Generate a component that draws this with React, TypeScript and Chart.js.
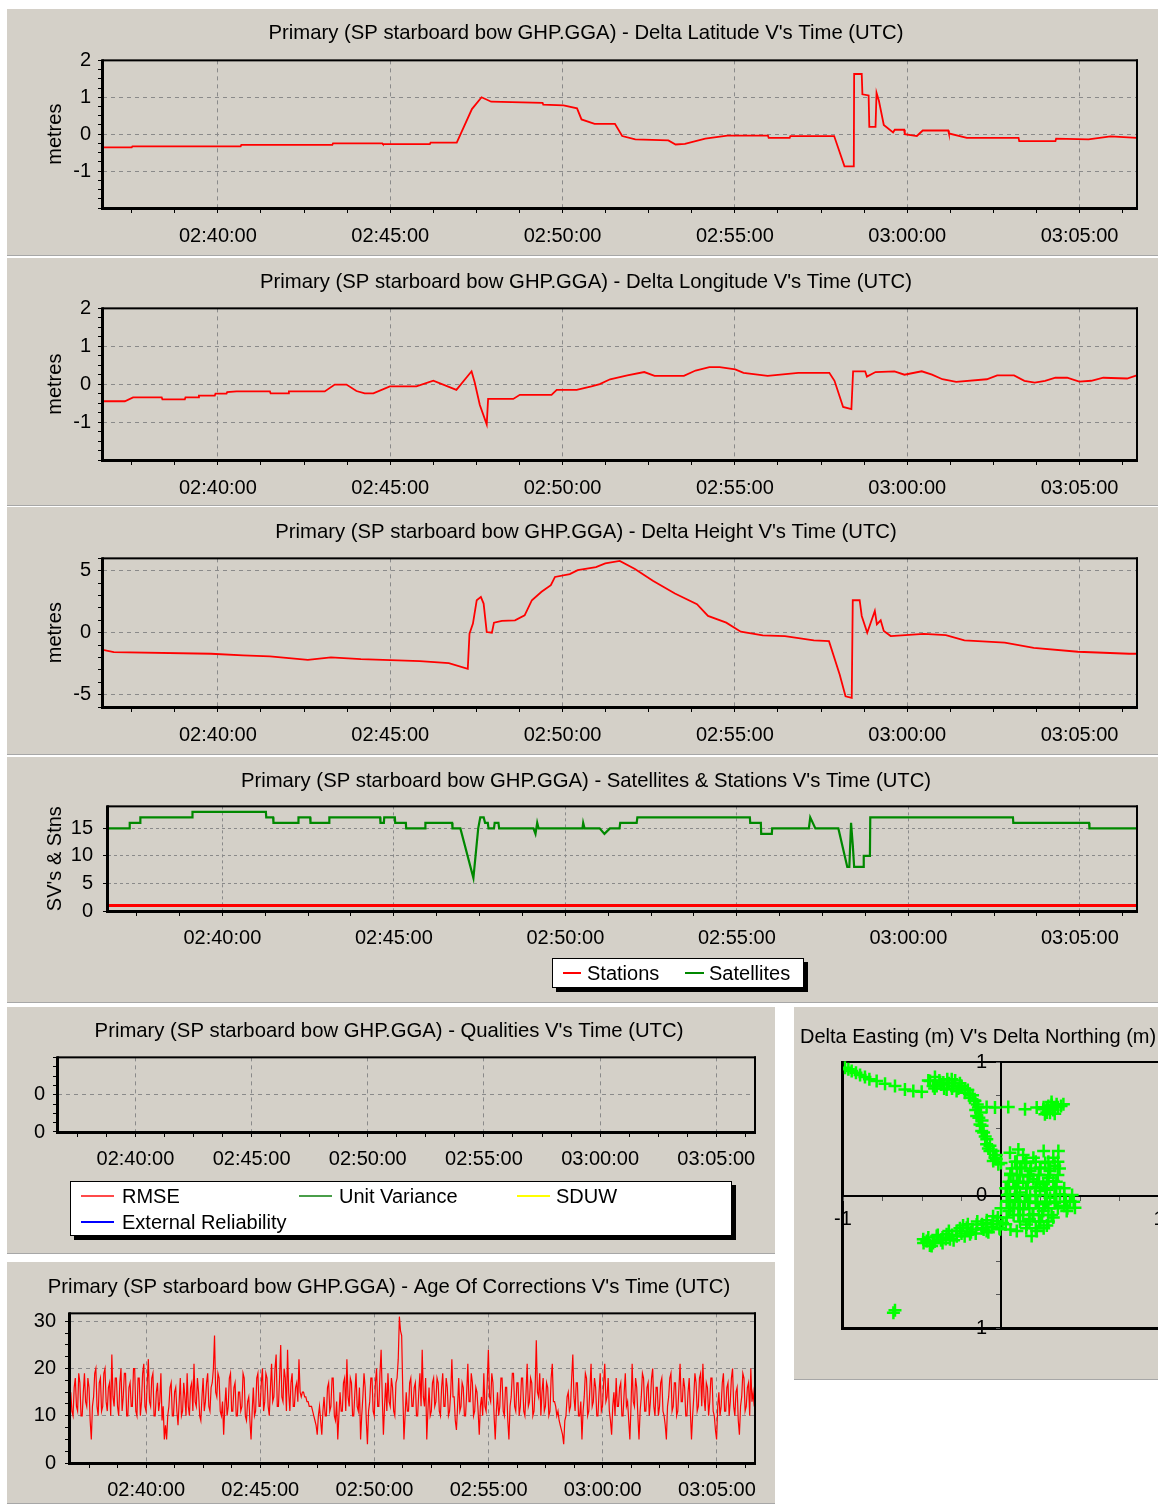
import React, { useEffect, useRef } from 'react';
import { Chart, registerables } from 'chart.js';

Chart.register(...registerables);

const FONT = '"Liberation Sans", Arial, sans-serif';
const PANEL_BG = '#d4d0c8';
const GRID = '#8a8a8a';
const INK = '#000000';
const NONE = 'rgba(0,0,0,0)';
Chart.defaults.font.family = FONT;

// ---------------- axis tick labels ----------------
const timeTickLabels = ['02:40:00', '02:45:00', '02:50:00', '02:55:00', '03:00:00', '03:05:00'];
const timeStart = '02:36:40';
const timeEnd = '03:06:40';

// ---------------- data (times in minutes after 02:00 UTC) ----------------
const latTime = [36.67, 37.5, 37.52, 40.66, 40.68, 43.32, 43.34, 44.77, 44.79, 46.15, 46.17, 46.93, 47.37, 47.65, 47.93, 49.42, 49.44, 50.03, 50.42, 50.55, 50.93, 51.52, 51.73, 52.11, 53.07, 53.28, 53.55, 54.14, 54.78, 55.96, 55.98, 56.59, 56.61, 57.88, 58.18, 58.45, 58.46, 58.68, 58.7, 58.88, 58.9, 59.08, 59.11, 59.18, 59.32, 59.59, 59.64, 59.91, 59.93, 60.28, 60.45, 61.19, 61.21, 61.73, 63.23, 63.25, 64.3, 64.32, 65.26, 65.9, 66.66];
const latValue = [-0.36, -0.36, -0.33, -0.33, -0.29, -0.29, -0.25, -0.25, -0.27, -0.27, -0.23, -0.23, 0.68, 1.0, 0.88, 0.85, 0.8, 0.78, 0.7, 0.4, 0.28, 0.28, -0.05, -0.14, -0.17, -0.28, -0.26, -0.12, -0.04, -0.04, -0.1, -0.1, -0.05, -0.05, -0.87, -0.87, 1.63, 1.63, 1.08, 1.05, 0.2, 0.2, 1.12, 0.9, 0.25, 0.05, 0.12, 0.12, 0.0, -0.05, 0.1, 0.1, 0.02, -0.1, -0.1, -0.19, -0.19, -0.12, -0.14, -0.06, -0.1];

const lonTime = [36.67, 37.3, 37.54, 38.37, 38.39, 39.04, 39.06, 39.43, 39.45, 39.91, 39.93, 40.25, 40.27, 40.54, 41.51, 41.53, 42.04, 42.06, 43.1, 43.39, 43.73, 44.02, 44.26, 44.51, 44.99, 45.76, 46.25, 46.92, 47.36, 47.45, 47.6, 47.8, 47.84, 48.57, 48.76, 49.68, 49.83, 50.41, 50.84, 51.08, 51.38, 51.88, 52.37, 52.67, 53.52, 53.86, 54.26, 54.56, 55.01, 55.25, 55.95, 56.84, 57.74, 57.89, 58.14, 58.38, 58.43, 58.78, 58.83, 59.08, 59.63, 59.92, 60.42, 60.72, 61.02, 61.42, 62.31, 62.61, 63.1, 63.4, 63.7, 64.0, 64.3, 64.64, 64.99, 65.34, 65.69, 66.38, 66.66];
const lonValue = [-0.45, -0.45, -0.35, -0.35, -0.4, -0.4, -0.35, -0.35, -0.3, -0.3, -0.25, -0.25, -0.21, -0.19, -0.19, -0.24, -0.24, -0.19, -0.19, -0.01, -0.01, -0.18, -0.24, -0.24, -0.06, -0.06, 0.09, -0.15, 0.34, 0.05, -0.55, -1.06, -0.39, -0.39, -0.28, -0.28, -0.15, -0.15, -0.06, 0.0, 0.13, 0.23, 0.32, 0.22, 0.22, 0.36, 0.45, 0.45, 0.39, 0.3, 0.22, 0.3, 0.3, 0.09, -0.6, -0.66, 0.34, 0.34, 0.2, 0.32, 0.34, 0.25, 0.34, 0.25, 0.13, 0.06, 0.13, 0.23, 0.23, 0.09, 0.04, 0.09, 0.17, 0.17, 0.07, 0.09, 0.17, 0.15, 0.23];

const hgtTime = [36.65, 36.98, 39.8, 40.73, 41.51, 42.61, 43.28, 44.15, 45.86, 46.7, 47.25, 47.3, 47.4, 47.51, 47.63, 47.71, 47.8, 47.95, 48.01, 48.24, 48.62, 48.9, 49.11, 49.39, 49.66, 49.78, 50.21, 50.44, 50.97, 51.24, 51.66, 52.1, 52.62, 53.26, 53.9, 54.22, 54.75, 55.17, 55.81, 56.45, 57.29, 57.73, 58.04, 58.21, 58.39, 58.42, 58.62, 58.68, 58.84, 59.06, 59.12, 59.23, 59.32, 59.52, 60.48, 61.12, 61.66, 62.83, 63.67, 64.95, 66.44, 66.66];
const hgtValue = [-1.38, -1.57, -1.7, -1.84, -1.92, -2.19, -2.0, -2.14, -2.3, -2.46, -2.92, -0.08, 0.73, 2.62, 2.89, 2.35, 0.05, 0.0, 0.81, 0.95, 1.0, 1.4, 2.62, 3.3, 3.84, 4.5, 4.73, 5.05, 5.3, 5.6, 5.8, 5.14, 4.19, 3.16, 2.3, 1.35, 0.81, 0.08, -0.22, -0.27, -0.62, -0.68, -3.38, -5.14, -5.27, 2.62, 2.62, 1.35, 0.0, 1.76, 0.68, 1.0, 0.14, -0.27, -0.1, -0.19, -0.62, -0.81, -1.22, -1.54, -1.7, -1.7];

const satTime = [36.67, 37.29, 37.3, 37.6, 37.61, 39.12, 39.13, 41.27, 41.28, 41.48, 41.49, 42.21, 42.22, 42.56, 42.57, 43.11, 43.12, 44.6, 44.61, 44.71, 44.72, 45.03, 45.04, 45.35, 45.36, 45.91, 45.92, 46.7, 46.71, 46.94, 47.32, 47.46, 47.52, 47.62, 47.66, 47.74, 47.76, 47.92, 47.94, 48.05, 48.07, 49.07, 49.13, 49.18, 49.22, 50.5, 50.52, 50.56, 51.0, 51.14, 51.3, 51.58, 51.6, 52.08, 52.1, 55.38, 55.39, 55.7, 55.71, 56.02, 56.03, 57.1, 57.14, 57.29, 57.96, 58.22, 58.28, 58.33, 58.38, 58.42, 58.69, 58.7, 58.88, 58.89, 63.05, 63.06, 65.27, 65.28, 66.67];
const satCount = [15, 15, 16, 16, 17, 17, 18, 18, 17, 17, 16, 16, 17, 17, 16, 16, 17, 17, 16, 16, 17, 17, 16, 16, 15, 15, 16, 16, 15, 15, 6, 15, 17, 17, 16, 16, 15, 15, 16, 16, 15, 15, 14, 16, 15, 15, 16, 15, 15, 14, 15, 15, 16, 16, 17, 17, 16, 16, 14, 14, 15, 15, 17, 15, 15, 8, 8, 16, 12, 8, 8, 10, 10, 17, 17, 16, 16, 15, 15];
const stnTime = [36.67, 66.67];
const stnCount = [1, 1];

// Age of corrections (s), evenly sampled over the plotted period
const ageValue = [
  15, 11, 10, 16, 18, 12, 11, 19, 17, 10, 10, 15, 19, 13, 12, 18, 16, 9, 5, 12, 14, 19, 20, 12, 10, 17, 18, 11, 12, 19, 20, 13, 11, 16, 17, 10, 23, 14, 12, 18,
  18, 12, 10, 17, 20, 11, 14, 19, 19, 10, 10, 16, 17, 12, 12, 20, 20, 11, 10, 18, 18, 10, 13, 19, 21, 12, 11, 17, 22, 13, 12, 18, 19, 10, 10, 15, 17, 11, 13, 19,
  9, 12, 5, 8, 5, 10, 12, 16, 17, 10, 10, 15, 16, 11, 8, 13, 18, 10, 11, 17, 14, 10, 19, 12, 10, 16, 17, 11, 21, 13, 12, 18, 15, 10, 9, 14, 18, 11, 13, 17,
  19, 12, 11, 16, 17, 20, 27, 15, 14, 19, 18, 11, 10, 13, 6, 12, 16, 10, 12, 18, 19, 11, 11, 16, 17, 10, 10, 15, 15, 11, 12, 19, 18, 10, 9, 13, 14, 9, 5, 11,
  16, 10, 11, 18, 19, 12, 12, 17, 20, 11, 13, 19, 18, 12, 10, 16, 21, 13, 14, 20, 23, 12, 12, 18, 25, 14, 13, 20, 18, 11, 24, 15, 11, 17, 19, 12, 12, 16, 17, 13,
  22, 15, 14, 15, 15, 14, 14, 13, 13, 12, 12, 12, 11, 10, 9, 8, 6, 10, 12, 9, 6, 11, 14, 10, 10, 16, 17, 11, 12, 18, 18, 10, 9, 13, 5, 10, 15, 11, 11, 17,
  18, 11, 22, 14, 12, 18, 17, 10, 10, 15, 19, 12, 11, 16, 5, 10, 14, 19, 16, 9, 4, 11, 13, 18, 18, 11, 10, 17, 20, 12, 12, 19, 24, 14, 6, 12, 17, 11, 19, 13,
  12, 18, 16, 11, 10, 17, 18, 22, 31, 28, 27, 15, 5, 10, 15, 11, 11, 17, 18, 12, 12, 16, 17, 10, 10, 15, 19, 12, 24, 14, 12, 18, 5, 11, 16, 10, 11, 17, 18, 12,
  13, 18, 17, 11, 10, 16, 19, 12, 12, 18, 16, 10, 11, 15, 22, 14, 14, 9, 7, 12, 18, 11, 12, 17, 16, 10, 10, 15, 21, 13, 13, 19, 17, 10, 11, 16, 15, 11, 6, 12,
  14, 10, 19, 12, 11, 17, 24, 14, 13, 19, 17, 10, 5, 11, 15, 10, 12, 18, 18, 11, 10, 16, 16, 9, 5, 12, 14, 19, 19, 12, 11, 17, 17, 10, 12, 18, 18, 11, 10, 15,
  21, 12, 13, 18, 17, 10, 11, 16, 26, 15, 14, 19, 10, 15, 18, 11, 12, 17, 16, 10, 11, 18, 21, 13, 13, 12, 10, 11, 9, 8, 7, 6, 4, 9, 10, 14, 15, 11, 12, 18,
  23, 14, 11, 17, 17, 10, 10, 13, 5, 11, 14, 19, 18, 10, 11, 16, 21, 12, 13, 18, 16, 10, 10, 15, 19, 11, 12, 17, 21, 13, 14, 18, 11, 9, 6, 12, 15, 10, 18, 12,
  12, 16, 17, 10, 10, 15, 19, 12, 13, 9, 5, 12, 21, 13, 12, 18, 16, 10, 5, 11, 14, 19, 18, 11, 11, 16, 17, 10, 13, 18, 20, 12, 10, 16, 16, 10, 12, 17, 18, 11,
  10, 8, 5, 12, 14, 18, 19, 11, 12, 17, 17, 10, 11, 16, 21, 13, 13, 18, 16, 10, 10, 15, 18, 11, 5, 10, 14, 19, 17, 11, 12, 18, 19, 12, 21, 14, 11, 17, 16, 10,
  13, 18, 18, 11, 10, 7, 5, 12, 15, 10, 12, 17, 19, 11, 11, 16, 17, 10, 13, 18, 20, 12, 10, 15, 16, 9, 6, 12, 14, 19, 18, 11, 12, 16, 17, 10, 20, 13, 15, 12,
];
const ageFirstSample = '02:36:42';
const ageLastSample = '03:06:38';

// Delta Easting / Northing (m)
const eastings = [
  -0.987, -0.966, -0.945, -0.918, -0.892, -0.861, -0.833, -0.787, -0.734, -0.671, -0.608, -0.555, -0.502,
  -0.449, -0.418, -0.407, -0.365, -0.344, -0.312, -0.302, -0.281, -0.249, -0.228, -0.196, -0.165, -0.143, -0.154, -0.133, -0.122, -0.091, -0.07, -0.038, -0.017, -0.049,
  -0.091, -0.038, 0.046, 0.152, 0.226, 0.268, 0.289, 0.321, 0.352, 0.395, 0.31, 0.278,
  0.057, 0.11, 0.205, 0.331, 0.363, 0.12, 0.184, 0.247, 0.31, 0.078, 0.141, 0.205, 0.268, 0.331, 0.057, 0.12, 0.184, 0.247, 0.31, 0.373, 0.437, 0.468, 0.416, 0.078, 0.141, 0.205, 0.268, 0.331, 0.162, 0.226, 0.194, 0.036,
  0.036, -0.027, -0.091, -0.154, -0.217, -0.281, -0.344, -0.407, -0.47, -0.492, -0.439, -0.323, -0.196, -0.091, -0.006,
  -0.671, -0.681,
  0.09, 0.15, 0.28, 0.1, 0.17, 0.24, 0.3, 0.09, 0.16, 0.22, 0.29, 0.35, 0.09, 0.15, 0.22, 0.28, 0.34, 0.4, 0.11, 0.18, 0.25, 0.29, 0.05, 0.0, 0.03, 0.06, 0.14, 0.27, 0.34,
  -0.06, -0.12, -0.18, -0.25, -0.31, -0.37, -0.43, -0.38, -0.24, -0.12, -0.05, 0.01,
  -0.43, -0.39, -0.33, -0.27, -0.36, -0.29, -0.21, -0.18, -0.15, -0.13, -0.12, -0.1, -0.08, -0.03,
  0.3, 0.33, 0.36, 0.29,
  0.1, 0.16, 0.22, 0.3, 0.36,
  0.07, 0.13, 0.19, 0.25, 0.31, 0.37,
  0.06, 0.12, 0.18, 0.24, 0.3, 0.36,
  0.05, 0.11, 0.17, 0.23, 0.29, 0.35,
  0.04, 0.1, 0.16, 0.22, 0.28, 0.34, 0.4,
  0.04, 0.1, 0.16, 0.22, 0.28, 0.34, 0.4, 0.45,
  0.05, 0.11, 0.17, 0.23, 0.29, 0.35, 0.41, 0.46,
  0.06, 0.12, 0.18, 0.24, 0.3, 0.36, 0.42,
  0.08, 0.14, 0.2, 0.26, 0.32,
  0.12, 0.18, 0.24, 0.3,
  0.16, 0.22, 0.27,
  -0.02, -0.05, -0.09, -0.11, -0.15, -0.19, -0.21, -0.26, -0.28, -0.33, -0.35, -0.4, -0.42, -0.46, -0.45, -0.49, -0.37, -0.3, -0.23, -0.16, -0.08, -0.01, 0.03, 0.06, 0.1,
  -0.46, -0.42, -0.38, -0.34, -0.31, -0.26, -0.23, -0.2, -0.17, -0.16, -0.14, -0.12, -0.11, -0.09, -0.07, -0.05, -0.03, 0.0,
  0.32, 0.34, 0.38, 0.27,
];
const northings = [
  0.957, 0.945, 0.932, 0.92, 0.902, 0.887, 0.87, 0.857, 0.837, 0.82, 0.794, 0.782, 0.777,
  0.857, 0.887, 0.82, 0.845, 0.794, 0.87, 0.82, 0.782, 0.82, 0.769, 0.732, 0.707, 0.657, 0.594, 0.531, 0.481, 0.381, 0.331, 0.281, 0.231, 0.256,
  0.662, 0.657, 0.662, 0.644, 0.657, 0.644, 0.657, 0.677, 0.682, 0.682, 0.619, 0.607,
  0.318, 0.343, 0.281, 0.281, 0.331, 0.206, 0.18, 0.206, 0.18, 0.105, 0.093, 0.118, 0.08, 0.105, 0.005, 0.018, -0.008, 0.03, -0.02, 0.005, -0.045, -0.095, -0.12, -0.095, -0.108, -0.145, -0.12, -0.17, -0.221, -0.271, -0.308, -0.045,
  -0.17, -0.195, -0.208, -0.221, -0.246, -0.271, -0.296, -0.308, -0.346, -0.333, -0.383, -0.333, -0.296, -0.271, -0.258,
  -0.867, -0.885,
  0.25, 0.24, 0.24, 0.15, 0.14, 0.15, 0.13, 0.06, 0.05, 0.06, 0.04, 0.06, -0.04, -0.05, -0.06, -0.07, -0.06, -0.08, -0.15, -0.18, -0.2, -0.23, -0.12, -0.1, 0.05, 0.16, 0.3, 0.33, 0.22,
  -0.24, -0.25, -0.26, -0.29, -0.3, -0.32, -0.36, -0.34, -0.23, -0.22, -0.16, -0.21,
  0.82, 0.86, 0.84, 0.8, 0.8, 0.86, 0.79, 0.75, 0.68, 0.62, 0.56, 0.44, 0.35, 0.3,
  0.67, 0.64, 0.66, 0.62,
  0.25, 0.25, 0.25, 0.25, 0.25,
  0.2, 0.2, 0.2, 0.2, 0.2, 0.2,
  0.15, 0.15, 0.15, 0.15, 0.15, 0.15,
  0.1, 0.1, 0.1, 0.1, 0.1, 0.1,
  0.05, 0.05, 0.05, 0.05, 0.05, 0.05, 0.05,
  0.0, 0.0, 0.0, 0.0, 0.0, 0.0, 0.0, 0.0,
  -0.05, -0.05, -0.05, -0.05, -0.05, -0.05, -0.05, -0.05,
  -0.1, -0.1, -0.1, -0.1, -0.1, -0.1, -0.1,
  -0.15, -0.15, -0.15, -0.15, -0.15,
  -0.2, -0.2, -0.2, -0.2,
  -0.25, -0.25, -0.25,
  -0.17, -0.22, -0.19, -0.26, -0.2, -0.28, -0.22, -0.25, -0.31, -0.27, -0.33, -0.3, -0.35, -0.32, -0.38, -0.36, -0.36, -0.34, -0.31, -0.29, -0.28, -0.25, -0.22, -0.26, -0.27,
  0.86, 0.8, 0.83, 0.87, 0.8, 0.84, 0.8, 0.76, 0.71, 0.64, 0.58, 0.52, 0.47, 0.42, 0.37, 0.33, 0.27, 0.24,
  0.7, 0.61, 0.67, 0.66,
];

const svSeries = ['Stations', 'Satellites'];
const svColours = ['#ff0000', '#008800'];
const qualitySeries = ['RMSE', 'Unit Variance', 'SDUW', 'External Reliability'];
const qualityColours = ['#ff4a4a', '#4a9e4a', '#ffff00', '#0000ff'];

// ---------------- helpers ----------------
const clockToMinutes = (s: string) => {
  const [h, m, sec] = s.split(':').map(Number);
  return (h - 2) * 60 + m + sec / 60;
};
const X_MIN = clockToMinutes(timeStart);
const X_MAX = clockToMinutes(timeEnd);
const majorMinutes = timeTickLabels.map(clockToMinutes);
const MINOR_STEP = 1.25;
const majorIndex = (v: number) => majorMinutes.findIndex((m) => Math.abs(m - v) < 1e-6);
const pts = (xs: number[], ys: number[]) => xs.map((x, i) => ({ x, y: ys[i] }));

function timeTickValues() {
  const out: number[] = [];
  let v = majorMinutes[0];
  while (v - MINOR_STEP > X_MIN) v -= MINOR_STEP;
  for (; v < X_MAX - 1e-9; v += MINOR_STEP) out.push(+v.toFixed(4));
  return out;
}

const font20 = { family: FONT, size: 20, weight: 'normal' as const };
const fontTitle = { family: FONT, size: 20.3, weight: 'normal' as const };

function timeAxis(height: number, dash: number[], pad: number) {
  const values = timeTickValues();
  return {
    type: 'linear',
    position: 'bottom',
    min: X_MIN,
    max: X_MAX,
    afterBuildTicks: (s: any) => {
      s.ticks = values.map((value) => ({ value }));
    },
    afterFit: (s: any) => {
      s.height = height;
    },
    ticks: {
      autoSkip: false,
      maxRotation: 0,
      minRotation: 0,
      padding: pad,
      color: INK,
      font: font20,
      callback: (v: number) => {
        const i = majorIndex(v);
        return i >= 0 ? timeTickLabels[i] : '';
      },
    },
    grid: {
      color: (c: any) => (c.tick && majorIndex(c.tick.value) >= 0 ? GRID : NONE),
      tickColor: INK,
      tickLength: 5,
      lineWidth: 1,
    },
    border: { display: false, dash },
  };
}

function valueAxis(o: any) {
  const values: number[] = [];
  for (let k = 0; o.min + k * o.step <= o.max + 1e-9; k++) values.push(+(o.min + k * o.step).toFixed(6));
  const has = (v: number) => o.labels.some((l: number) => Math.abs(l - v) < 1e-9);
  return {
    type: 'linear',
    position: 'left',
    min: o.min,
    max: o.max,
    afterBuildTicks: (s: any) => {
      s.ticks = values.map((value) => ({ value }));
    },
    afterFit: (s: any) => {
      s.width = o.width;
    },
    ticks: {
      autoSkip: false,
      padding: o.pad,
      color: INK,
      font: font20,
      callback: (v: number) => (has(v) ? (o.fmt ? o.fmt(v) : String(v)) : ''),
    },
    grid: {
      color: (c: any) =>
        c.tick && has(c.tick.value) && c.tick.value > o.min + 1e-9 && c.tick.value < o.max - 1e-9 ? GRID : NONE,
      tickColor: INK,
      tickLength: 5,
      lineWidth: 1,
    },
    border: { display: false, dash: o.dash },
    title: o.title
      ? { display: true, text: o.title, color: INK, font: font20, padding: { top: o.titlePad, bottom: 0 } }
      : { display: false },
  };
}

function drawFrame(chart: any) {
  const { ctx, chartArea: a } = chart;
  const w = a.right - a.left;
  const h = a.bottom - a.top;
  ctx.save();
  ctx.fillStyle = INK;
  ctx.fillRect(a.left - 1, a.top - 1, w + 2, 2);
  ctx.fillRect(a.right - 1, a.top - 1, 2, h + 2);
  ctx.fillRect(a.left - 2, a.top - 1, 3, h + 3);
  ctx.fillRect(a.left - 2, a.bottom - 1, w + 3, 3);
  ctx.restore();
}

const framePlugin = {
  id: 'frame',
  afterDatasetsDraw(chart: any) {
    drawFrame(chart);
  },
};

const frameUnderPlugin = {
  id: 'frameUnder',
  beforeDraw(chart: any) {
    drawFrame(chart);
  },
};

function timeChart(s: any) {
  return {
    type: 'line',
    data: { datasets: s.datasets },
    options: {
      responsive: false,
      maintainAspectRatio: false,
      animation: false,
      events: [],
      layout: { padding: { left: s.padLeft, right: s.padRight, top: 0, bottom: s.padBottom || 0 } },
      plugins: {
        legend: { display: false },
        tooltip: { enabled: false },
        title: {
          display: true,
          text: s.title,
          color: INK,
          font: fontTitle,
          padding: { top: s.titleTop, bottom: s.titleBottom },
        },
      },
      scales: { x: s.x, y: s.y },
    },
    plugins: [framePlugin],
  };
}

const line = (xs: number[], ys: number[], color: string, width: number, label: string) => ({
  label,
  data: pts(xs, ys),
  borderColor: color,
  backgroundColor: color,
  borderWidth: width,
  pointRadius: 0,
  tension: 0,
  fill: false,
});

// ---------------- chart configs ----------------
const latConfig = () =>
  timeChart({
    title: "Primary (SP starboard bow GHP.GGA) - Delta Latitude V's Time (UTC)",
    titleTop: 12,
    titleBottom: 15,
    padLeft: 28,
    padRight: 21,
    x: timeAxis(47, [4, 4], 11),
    y: valueAxis({ min: -2, max: 2, step: 0.25, labels: [-1, 0, 1, 2], width: 68, pad: 7, title: 'metres', titlePad: 8, dash: [4, 4] }),
    datasets: [line(latTime, latValue, '#ff0000', 1.8, 'Delta Latitude')],
  });

const lonConfig = () =>
  timeChart({
    title: "Primary (SP starboard bow GHP.GGA) - Delta Longitude V's Time (UTC)",
    titleTop: 12,
    titleBottom: 14,
    padLeft: 28,
    padRight: 21,
    x: timeAxis(45, [4, 4], 11),
    y: valueAxis({ min: -2, max: 2, step: 0.25, labels: [-1, 0, 1, 2], width: 68, pad: 7, title: 'metres', titlePad: 8, dash: [4, 4] }),
    datasets: [line(lonTime, lonValue, '#ff0000', 1.8, 'Delta Longitude')],
  });

const hgtConfig = () =>
  timeChart({
    title: "Primary (SP starboard bow GHP.GGA) - Delta Height V's Time (UTC)",
    titleTop: 13,
    titleBottom: 14,
    padLeft: 28,
    padRight: 21,
    x: timeAxis(47, [4, 4], 11),
    y: valueAxis({ min: -6, max: 6, step: 1, labels: [-5, 0, 5], width: 68, pad: 7, title: 'metres', titlePad: 8, dash: [4, 4] }),
    datasets: [line(hgtTime, hgtValue, '#ff0000', 1.8, 'Delta Height')],
  });

const svConfig = () =>
  timeChart({
    title: "Primary (SP starboard bow GHP.GGA) - Satellites & Stations V's Time (UTC)",
    titleTop: 12,
    titleBottom: 13,
    padLeft: 28,
    padRight: 21,
    x: timeAxis(91, [3, 3], 10),
    y: valueAxis({ min: 0, max: 19, step: 5, labels: [0, 5, 10, 15], width: 73, pad: 10, title: "SV's & Stns", titlePad: 8, dash: [3, 3] }),
    datasets: [
      line(stnTime, stnCount, svColours[0], 3, svSeries[0]),
      line(satTime, satCount, svColours[1], 2.2, svSeries[1]),
    ],
  });

const qualConfig = () =>
  timeChart({
    title: "Primary (SP starboard bow GHP.GGA) - Qualities V's Time (UTC)",
    titleTop: 12,
    titleBottom: 14,
    padLeft: 16,
    padRight: 20,
    x: timeAxis(121, [4, 4], 10),
    y: valueAxis({ min: 0, max: 0.8, step: 0.1, labels: [0, 0.4], width: 35, pad: 8, fmt: (v: number) => v.toFixed(0), dash: [4, 4] }),
    datasets: qualitySeries.map((name, i) => line([], [], qualityColours[i], 1.5, name)),
  });

const ageConfig = () => {
  const t0 = clockToMinutes(ageFirstSample);
  const t1 = clockToMinutes(ageLastSample);
  const times = ageValue.map((_, i) => t0 + ((t1 - t0) * i) / (ageValue.length - 1));
  return timeChart({
    title: "Primary (SP starboard bow GHP.GGA) - Age Of Corrections V's Time (UTC)",
    titleTop: 13,
    titleBottom: 14,
    padLeft: 16,
    padRight: 20,
    x: timeAxis(41, [4, 4], 10),
    y: valueAxis({ min: 0, max: 31.7, step: 2.5, labels: [0, 10, 20, 30], width: 47, pad: 9, dash: [4, 4] }),
    datasets: [line(times, ageValue, '#ff0000', 1.2, 'Age Of Corrections')],
  });
};

const scatterConfig = () => ({
  type: 'scatter',
  data: {
    datasets: [
      {
        label: 'Delta Easting / Northing',
        data: pts(eastings, northings),
        pointStyle: 'cross',
        pointRadius: 6.5,
        pointBorderWidth: 2.5,
        borderColor: '#00ff00',
        backgroundColor: '#00ff00',
      },
    ],
  },
  options: {
    responsive: false,
    maintainAspectRatio: false,
    animation: false,
    events: [],
    layout: { padding: { left: 0, right: 35, top: 0, bottom: 52 } },
    plugins: {
      legend: { display: false },
      tooltip: { enabled: false },
      title: {
        display: true,
        text: "Delta Easting (m) V's Delta Northing (m)",
        align: 'start',
        color: INK,
        font: font20,
        padding: { top: 18, bottom: 13 },
      },
    },
    scales: {
      pad: {
        type: 'linear',
        position: 'left',
        display: true,
        ticks: { display: false },
        grid: { display: false },
        border: { display: false },
        afterFit: (s: any) => {
          s.width = 43;
        },
      },
      x: {
        type: 'linear',
        min: -1,
        max: 1,
        position: 'center',
        ticks: {
          stepSize: 0.25,
          autoSkip: false,
          maxRotation: 0,
          padding: 8,
          color: INK,
          font: font20,
          callback: (v: number) => (Math.abs(Math.abs(v) - 1) < 1e-9 ? String(v) : ''),
        },
        grid: { drawOnChartArea: false, color: '#555', tickColor: '#555', tickLength: 4 },
        border: { display: true, color: INK, width: 2 },
      },
      y: {
        type: 'linear',
        min: -1,
        max: 1,
        position: 'center',
        ticks: {
          stepSize: 0.25,
          autoSkip: false,
          padding: 10,
          color: INK,
          font: font20,
          callback: (v: number) => (Math.abs(v - Math.round(v)) < 1e-9 ? String(v) : ''),
        },
        grid: { drawOnChartArea: false, color: '#555', tickColor: '#555', tickLength: 4 },
        border: { display: true, color: INK, width: 2 },
      },
    },
  },
  plugins: [frameUnderPlugin],
});

// ---------------- components ----------------
function ChartBox({ left, top, width, height, build }: any) {
  const ref = useRef<HTMLCanvasElement>(null);
  useEffect(() => {
    const chart = new Chart(ref.current as HTMLCanvasElement, build());
    return () => chart.destroy();
  }, []);
  return (
    <canvas
      ref={ref}
      width={width}
      height={height}
      style={{ position: 'absolute', left, top, width, height, display: 'block' }}
    />
  );
}

function Panel({ left, top, width, height }: any) {
  return (
    <div
      style={{
        position: 'absolute',
        left,
        top,
        width,
        height,
        background: PANEL_BG,
        borderBottom: '1px solid #a7a7a7',
        boxSizing: 'border-box',
      }}
    />
  );
}

function LegendBox({ left, top, width, height, items }: any) {
  return (
    <div
      style={{
        position: 'absolute',
        left,
        top,
        width,
        height,
        background: '#ffffff',
        border: '1px solid #000',
        boxShadow: '4px 4px 0 #000',
        boxSizing: 'border-box',
      }}
    >
      {items.map((it: any) => (
        <React.Fragment key={it.text}>
          <div
            style={{ position: 'absolute', left: it.lineX, top: it.y - 1, width: it.lineW, height: 2, background: it.color }}
          />
          <div
            style={{
              position: 'absolute',
              left: it.textX,
              top: it.y - 12,
              height: 24,
              lineHeight: '24px',
              fontSize: 20,
              fontFamily: FONT,
              color: '#000',
              whiteSpace: 'nowrap',
            }}
          >
            {it.text}
          </div>
        </React.Fragment>
      ))}
    </div>
  );
}

export default function App() {
  const svItems = [
    { text: svSeries[0], color: svColours[0], lineX: 10, lineW: 18, textX: 34, y: 14 },
    { text: svSeries[1], color: svColours[1], lineX: 132, lineW: 19, textX: 156, y: 14 },
  ];
  const qItems = [
    { text: qualitySeries[0], color: qualityColours[0], lineX: 10, lineW: 33, textX: 51, y: 14 },
    { text: qualitySeries[1], color: qualityColours[1], lineX: 228, lineW: 33, textX: 268, y: 14 },
    { text: qualitySeries[2], color: qualityColours[2], lineX: 446, lineW: 33, textX: 485, y: 14 },
    { text: qualitySeries[3], color: qualityColours[3], lineX: 10, lineW: 33, textX: 51, y: 40 },
  ];
  return (
    <div
      style={{
        position: 'absolute',
        left: 0,
        top: 0,
        width: 1158,
        height: 1504,
        overflow: 'hidden',
        background: '#ffffff',
        fontFamily: FONT,
      }}
    >
      <Panel left={7} top={9} width={1151} height={247} />
      <Panel left={7} top={258} width={1151} height={248} />
      <Panel left={7} top={507} width={1151} height={248} />
      <Panel left={7} top={757} width={1151} height={246} />
      <Panel left={7} top={1007} width={768} height={247} />
      <Panel left={7} top={1262} width={768} height={242} />
      <Panel left={794} top={1007} width={364} height={373} />

      <ChartBox left={7} top={9} width={1151} height={246} build={latConfig} />
      <ChartBox left={7} top={258} width={1151} height={247} build={lonConfig} />
      <ChartBox left={7} top={507} width={1151} height={247} build={hgtConfig} />
      <ChartBox left={7} top={757} width={1151} height={245} build={svConfig} />
      <ChartBox left={7} top={1007} width={768} height={246} build={qualConfig} />
      <ChartBox left={7} top={1262} width={768} height={242} build={ageConfig} />
      <ChartBox left={800} top={1007} width={394} height={373} build={scatterConfig} />

      <LegendBox left={552} top={958} width={252} height={30} items={svItems} />
      <LegendBox left={70} top={1181} width={662} height={55} items={qItems} />
    </div>
  );
}
